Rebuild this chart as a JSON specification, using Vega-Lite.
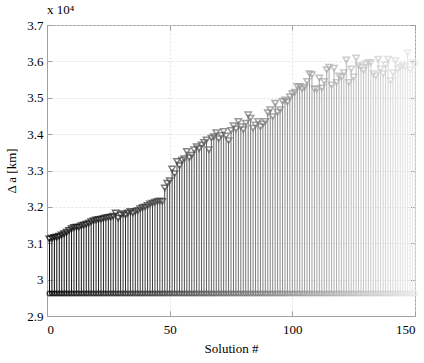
{
  "$schema": "https://vega.github.io/schema/vega-lite/v6.json",
  "width": 368,
  "height": 291,
  "autosize": {"type": "none"},
  "padding": {"left": 47, "top": 25, "right": 9, "bottom": 47},
  "background": "white",
  "title": {"text": "x 10⁴", "anchor": "start", "frame": "group", "font": "Liberation Serif", "fontSize": 13, "fontWeight": "normal", "color": "#000000", "offset": 2, "dx": 0},
  "config": {
    "view": {"stroke": "#a0a0a0", "strokeWidth": 1},
    "axis": {
      "labelFont": "Liberation Serif", "labelFontSize": 13, "labelColor": "#000000",
      "titleFont": "Liberation Serif", "titleFontSize": 13, "titleFontWeight": "normal", "titleColor": "#000000",
      "domainColor": "#a0a0a0", "tickColor": "#a0a0a0", "tickSize": -5,
      "gridColor": "#dcdcdc", "gridDash": [2, 2], "gridWidth": 0.8,
      "labelOverlap": false, "labelBound": false
    }
  },
  "resolve": {"axis": {"x": "independent", "y": "independent"}},
  "data": {"values": [
    {"s":1,"a":31115},{"s":2,"a":31140},{"s":3,"a":31160},{"s":4,"a":31170},{"s":5,"a":31190},
    {"s":6,"a":31230},{"s":7,"a":31260},{"s":8,"a":31300},{"s":9,"a":31350},{"s":10,"a":31400},
    {"s":11,"a":31430},{"s":12,"a":31440},{"s":13,"a":31450},{"s":14,"a":31480},{"s":15,"a":31500},
    {"s":16,"a":31520},{"s":17,"a":31550},{"s":18,"a":31590},{"s":19,"a":31620},{"s":20,"a":31640},
    {"s":21,"a":31650},{"s":22,"a":31660},{"s":23,"a":31680},{"s":24,"a":31700},{"s":25,"a":31710},
    {"s":26,"a":31720},{"s":27,"a":31740},{"s":28,"a":31830},{"s":29,"a":31690},{"s":30,"a":31775},
    {"s":31,"a":31810},{"s":32,"a":31775},{"s":33,"a":31830},{"s":34,"a":31875},{"s":35,"a":31830},
    {"s":36,"a":31870},{"s":37,"a":31900},{"s":38,"a":31950},{"s":39,"a":31980},{"s":40,"a":32000},
    {"s":41,"a":32040},{"s":42,"a":32080},{"s":43,"a":32100},{"s":44,"a":32130},{"s":45,"a":32150},
    {"s":46,"a":32160},{"s":47,"a":32150},{"s":48,"a":32520},{"s":49,"a":32650},{"s":50,"a":32720},
    {"s":51,"a":33040},{"s":52,"a":32910},{"s":53,"a":33250},{"s":54,"a":33130},{"s":55,"a":33280},
    {"s":56,"a":33320},{"s":57,"a":33520},{"s":58,"a":33350},{"s":59,"a":33420},{"s":60,"a":33570},
    {"s":61,"a":33650},{"s":62,"a":33600},{"s":63,"a":33700},{"s":64,"a":33770},{"s":65,"a":33840},
    {"s":66,"a":33570},{"s":67,"a":33890},{"s":68,"a":33930},{"s":69,"a":34040},{"s":70,"a":33870},
    {"s":71,"a":33960},{"s":72,"a":34070},{"s":73,"a":33950},{"s":74,"a":33820},{"s":75,"a":34100},
    {"s":76,"a":34230},{"s":77,"a":34140},{"s":78,"a":34350},{"s":79,"a":34200},{"s":80,"a":34120},
    {"s":81,"a":34300},{"s":82,"a":34530},{"s":83,"a":34440},{"s":84,"a":34160},{"s":85,"a":34250},
    {"s":86,"a":34350},{"s":87,"a":34200},{"s":88,"a":34280},{"s":89,"a":34350},{"s":90,"a":34590},
    {"s":91,"a":34670},{"s":92,"a":34480},{"s":93,"a":34850},{"s":94,"a":34600},{"s":95,"a":34670},
    {"s":96,"a":34900},{"s":97,"a":34940},{"s":98,"a":34880},{"s":99,"a":35030},{"s":100,"a":35110},
    {"s":101,"a":35150},{"s":102,"a":35310},{"s":103,"a":35310},{"s":104,"a":35250},{"s":105,"a":35290},
    {"s":106,"a":35450},{"s":107,"a":35660},{"s":108,"a":35630},{"s":109,"a":35240},{"s":110,"a":35240},
    {"s":111,"a":35540},{"s":112,"a":35270},{"s":113,"a":35450},{"s":114,"a":35770},{"s":115,"a":35840},
    {"s":116,"a":35350},{"s":117,"a":35810},{"s":118,"a":35420},{"s":119,"a":35600},{"s":120,"a":35570},
    {"s":121,"a":35690},{"s":122,"a":36040},{"s":123,"a":35420},{"s":124,"a":35790},{"s":125,"a":35570},
    {"s":126,"a":36090},{"s":127,"a":35880},{"s":128,"a":35840},{"s":129,"a":35750},{"s":130,"a":35930},
    {"s":131,"a":35970},{"s":132,"a":35960},{"s":133,"a":35660},{"s":134,"a":35600},{"s":135,"a":36060},
    {"s":136,"a":35790},{"s":137,"a":35660},{"s":138,"a":35900},{"s":139,"a":36060},{"s":140,"a":35470},
    {"s":141,"a":35690},{"s":142,"a":36020},{"s":143,"a":35790},{"s":144,"a":35840},{"s":145,"a":35880},
    {"s":146,"a":35850},{"s":147,"a":36240},{"s":148,"a":35770},{"s":149,"a":35970},{"s":150,"a":35900}
  ]},
  "encoding": {
    "color": {"field": "s", "type": "quantitative", "scale": {"domain": [1, 150], "range": ["#000000", "#e8e8e8"]}, "legend": null}
  },
  "layer": [
    {
      "mark": {"type": "rule", "strokeWidth": 1},
      "encoding": {
        "x": {"field": "s", "type": "quantitative", "scale": {"domain": [0, 150], "nice": false, "zero": false},
          "axis": {"values": [0, 50, 100, 150], "title": "Solution #", "labelPadding": 12, "titlePadding": 6, "grid": true}},
        "y": {"field": "a", "type": "quantitative", "scale": {"domain": [29000, 37000], "nice": false, "zero": false},
          "axis": {"values": [29000, 30000, 31000, 32000, 33000, 34000, 35000, 36000, 37000], "labelOverlap": false, "labelSeparation": 0,
            "labelExpr": "format(datum.value / 10000, '.1~f')", "title": "Δ a [km]", "labelPadding": 9, "titlePadding": 8, "grid": true}},
        "y2": {"datum": 29620}
      }
    },
    {
      "mark": {"type": "point", "shape": "circle", "filled": false, "size": 20, "strokeWidth": 1.5},
      "encoding": {
        "y": {"datum": 29620, "axis": null},
        "x": {"field": "s", "type": "quantitative", "axis": {"orient": "top", "values": [0, 50, 100, 150], "labels": false, "title": null, "grid": false, "domain": false}}
      }
    },
    {
      "mark": {"type": "point", "shape": "triangle-down", "filled": false, "size": 40, "strokeWidth": 1.5},
      "encoding": {
        "x": {"field": "s", "type": "quantitative", "axis": null},
        "y": {"field": "a", "type": "quantitative", "axis": {"orient": "right", "values": [29000, 30000, 31000, 32000, 33000, 34000, 35000, 36000, 37000], "labels": false, "title": null, "grid": false, "domain": false}}
      }
    }
  ]
}
